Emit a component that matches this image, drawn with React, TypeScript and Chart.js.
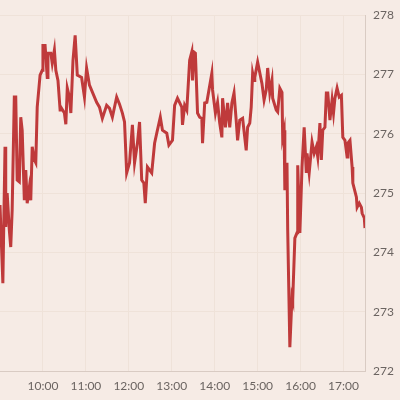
import React, { useEffect, useRef } from "react";
import { Chart, registerables } from "chart.js";

Chart.register(...registerables);

const times: string[] = [
  "9:00","9:04","9:07","9:08","9:10","9:13","9:15","9:17","9:20","9:22","9:24","9:27","9:29","9:31","9:34","9:36","9:38","9:41","9:43","9:45","9:48","9:50","9:52","9:53","9:56","9:59",
  "10:00","10:03","10:06","10:07","10:11","10:13","10:16","10:18","10:21","10:24","10:25","10:30","10:32","10:34","10:37","10:39","10:42","10:45","10:48","10:54","10:58",
  "11:01","11:05","11:15","11:19","11:23","11:29","11:33","11:37","11:43","11:47","11:51","11:54","11:57",
  "12:01","12:05","12:08","12:12","12:15","12:18","12:21","12:23","12:26","12:32","12:36","12:39","12:44","12:47","12:53","12:56",
  "13:01","13:04","13:08","13:14","13:15","13:18","13:21","13:25","13:28","13:29","13:31","13:33","13:36","13:39","13:42","13:43","13:46","13:49","13:56","13:57",
  "14:01","14:04","14:07","14:10","14:11","14:15","14:18","14:21","14:24","14:27","14:30","14:32","14:35","14:39","14:44","14:46","14:49","14:51","14:53","14:55","14:56",
  "15:00","15:06","15:09","15:12","15:14","15:17","15:20","15:21","15:26","15:28","15:31","15:34","15:35","15:37","15:38","15:41","15:42","15:45","15:48","15:49","15:52","15:55","15:56","15:59",
  "16:02","16:05","16:08","16:09","16:12","16:16","16:19","16:22","16:24","16:27","16:29","16:31","16:34","16:36","16:38","16:41","16:44","16:46","16:48","16:51","16:54","16:57","16:59",
  "17:02","17:05","17:06","17:09","17:12","17:13","17:18","17:19","17:22","17:25","17:26","17:29","17:30",
];

const prices: number[] = [
  274.80,273.48,275.78,274.43,275.00,274.38,274.09,274.71,276.62,276.62,275.22,275.19,276.28,276.06,274.88,275.39,274.83,275.10,274.88,275.78,275.56,275.51,276.45,276.45,276.99,277.07,
  277.49,277.49,276.95,277.36,277.36,277.19,277.41,277.07,276.90,276.40,276.45,276.35,276.16,276.77,276.62,276.35,277.24,277.66,276.99,276.95,276.62,
  277.11,276.82,276.53,276.45,276.26,276.48,276.43,276.28,276.62,276.50,276.35,276.20,275.34,
  275.51,276.15,275.51,275.84,276.20,275.22,275.17,274.83,275.44,275.34,275.84,276.01,276.28,276.06,276.01,275.81,
  275.89,276.48,276.60,276.45,276.15,276.48,276.40,277.24,277.38,276.90,277.38,277.36,276.35,276.28,276.26,275.84,276.52,276.53,277.02,276.74,
  276.35,276.53,276.18,275.94,276.60,276.11,276.52,276.11,276.52,276.69,276.23,275.89,276.23,276.26,275.72,276.11,276.18,276.45,277.02,276.90,276.95,
  277.21,276.85,276.57,276.74,277.11,276.69,276.90,276.60,276.40,276.37,276.77,276.70,275.94,276.06,275.05,275.51,274.38,272.40,273.25,273.20,274.24,274.33,275.47,274.33,
  275.44,276.11,275.34,275.67,275.34,275.86,275.67,275.78,275.61,276.18,275.56,276.06,276.11,276.69,276.69,276.23,276.57,276.35,276.60,276.77,276.62,276.65,275.94,
  275.89,275.61,275.84,275.89,275.44,275.17,274.93,274.76,274.83,274.76,274.66,274.58,274.41,
];

const xTickHours: number[] = [10, 11, 12, 13, 14, 15, 16, 17];
const yTicks: number[] = [272, 273, 274, 275, 276, 277, 278];
const xStart = "9:00";
const xEnd = "17:30";

const toMin = (t: string) => {
  const [h, m] = t.split(":").map(Number);
  return h * 60 + m;
};

export default function App() {
  const ref = useRef<HTMLCanvasElement | null>(null);
  useEffect(() => {
    if (!ref.current) return;
    const data = times.map((t, i) => ({ x: toMin(t), y: prices[i] }));
    const font = { family: "Lato", size: 12 };
    const chart = new Chart(ref.current, {
      type: "line",
      data: {
        datasets: [
          {
            data,
            borderColor: "#bf3a3b",
            borderWidth: 3,
            pointRadius: 0,
            tension: 0,
            fill: false,
          },
        ],
      },
      options: {
        animation: false,
        responsive: false,
        maintainAspectRatio: false,
        layout: { padding: { top: 15, left: 0, right: 0, bottom: 0 } },
        plugins: { legend: { display: false }, tooltip: { enabled: false } },
        scales: {
          x: {
            type: "linear",
            min: toMin(xStart),
            max: toMin(xEnd),
            afterBuildTicks: (scale: any) => {
              scale.ticks = xTickHours.map((h) => ({ value: h * 60 }));
            },
            afterFit: (scale: any) => {
              scale.height = 29;
            },
            grid: { color: "#efe2d9", drawTicks: false, lineWidth: 1 },
            border: { color: "#d9cbc3", width: 1 },
            ticks: {
              color: "#6b6461",
              font,
              padding: 8,
              maxRotation: 0,
              autoSkip: false,
              callback: (v: any) => `${Math.floor(Number(v) / 60)}:00`,
            },
          },
          y: {
            position: "right",
            min: yTicks[0],
            max: yTicks[yTicks.length - 1],
            afterBuildTicks: (scale: any) => {
              scale.ticks = yTicks.map((v) => ({ value: v }));
            },
            afterFit: (scale: any) => {
              scale.width = 35;
            },
            grid: { color: "#efe2d9", drawTicks: false, lineWidth: 1 },
            border: { color: "#d9cbc3", width: 1 },
            ticks: { color: "#6b6461", font, padding: 8 },
          },
        },
      },
    } as any);
    return () => chart.destroy();
  }, []);
  return (
    <div
      style={{
        position: "absolute",
        left: 0,
        top: 0,
        width: 400,
        height: 400,
        background: "#f6ebe5",
      }}
    >
      <canvas ref={ref} width={400} height={400} style={{ display: "block" }} />
    </div>
  );
}
